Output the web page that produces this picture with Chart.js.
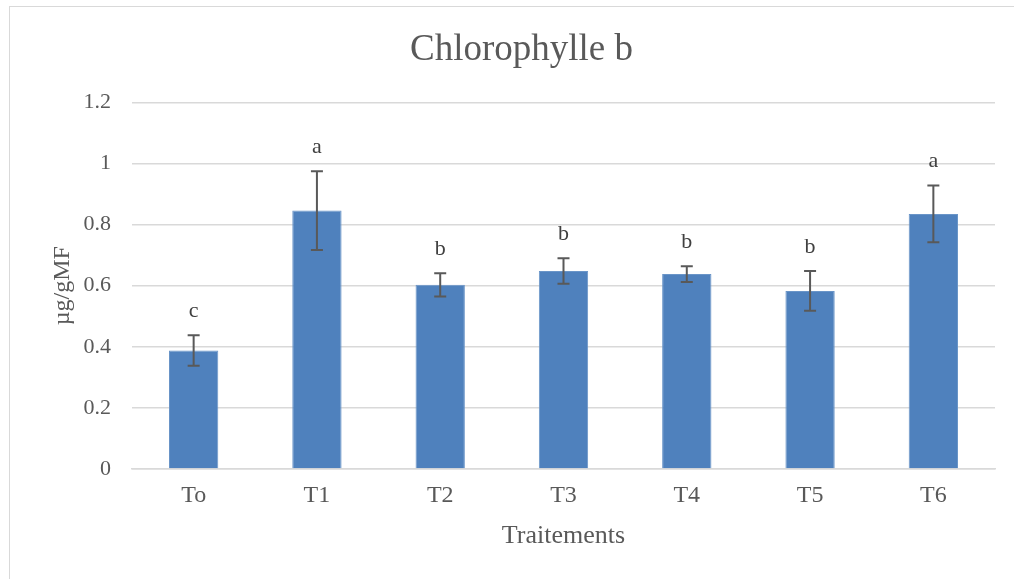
<!DOCTYPE html>
<html>
<head>
<meta charset="utf-8">
<script src="https://cdn.jsdelivr.net/npm/chart.js@4.4.1/dist/chart.umd.min.js"></script>
<style>
html,body{margin:0;padding:0;background:#fff;}
#wrap{position:relative;width:1014px;height:579px;overflow:hidden;}
#frame{position:absolute;left:9px;top:6px;width:1100px;height:700px;border:1.5px solid #d9d9d9;box-sizing:border-box;}
canvas{position:absolute;left:0;top:0;}
</style>
</head>
<body>
<div id="wrap">
<div id="frame"></div>
<canvas id="c" width="1014" height="579"></canvas>
</div>
<script>
const categories = ["To","T1","T2","T3","T4","T5","T6"];
const values = [0.388, 0.846, 0.603, 0.648, 0.638, 0.583, 0.835];
const errors = [0.050, 0.129, 0.038, 0.042, 0.026, 0.065, 0.093];
const letters = ["c","a","b","b","b","b","a"];
const yTicks = [0, 0.2, 0.4, 0.6, 0.8, 1, 1.2];

const textColor = "#595959";
const serif = "'Liberation Serif','Times New Roman',serif";

const errorBarPlugin = {
  id: "errorBars",
  afterDatasetsDraw(chart) {
    const ctx = chart.ctx;
    const meta = chart.getDatasetMeta(0);
    const y = chart.scales.y;
    ctx.save();
    ctx.strokeStyle = "#595959";
    ctx.lineWidth = 2;
    meta.data.forEach((bar, i) => {
      const x = bar.x;
      const top = y.getPixelForValue(values[i] + errors[i]);
      const bot = y.getPixelForValue(values[i] - errors[i]);
      ctx.beginPath();
      ctx.moveTo(x, top); ctx.lineTo(x, bot);
      ctx.moveTo(x - 6, top); ctx.lineTo(x + 6, top);
      ctx.moveTo(x - 6, bot); ctx.lineTo(x + 6, bot);
      ctx.stroke();
      ctx.fillStyle = "#404040";
      ctx.font = "22px " + serif;
      ctx.textAlign = "center";
      ctx.textBaseline = "middle";
      ctx.fillText(letters[i], x, top - 24);
    });
    ctx.restore();
  }
};

new Chart(document.getElementById("c"), {
  type: "bar",
  data: {
    labels: categories,
    datasets: [{
      data: values,
      backgroundColor: "#4f81bd",
      borderColor: "#6a95c8",
      borderWidth: 1,
      barPercentage: 0.4,
      categoryPercentage: 1.0
    }]
  },
  options: {
    responsive: false,
    animation: false,
    devicePixelRatio: 1,
    layout: { padding: { left: 48, right: 19, top: 10, bottom: 27 } },
    plugins: {
      legend: { display: false },
      tooltip: { enabled: false },
      title: {
        display: true,
        text: "Chlorophylle b",
        color: textColor,
        font: { family: serif, size: 37, weight: "normal" },
        padding: { top: 18, bottom: 30 }
      }
    },
    scales: {
      x: {
        afterFit(scale) { scale.height = 83; },
        grid: { display: false, drawTicks: false },
        border: { display: true, color: "#d9d9d9", width: 1.5 },
        ticks: { color: textColor, font: { family: serif, size: 24 }, padding: 12 },
        title: { display: true, text: "Traitements", color: textColor, font: { family: serif, size: 26 }, padding: { top: 7, bottom: 0 } }
      },
      y: {
        min: 0, max: 1.2,
        afterFit(scale) { scale.width = 84; },
        afterBuildTicks(scale) { scale.ticks = yTicks.map(v => ({ value: v })); },
        grid: { color: "#d9d9d9", lineWidth: 1.5, drawTicks: false },
        border: { display: false },
        ticks: { color: textColor, font: { family: serif, size: 22 }, padding: 21,
                 callback: v => String(v) },
        title: { display: true, text: "µg/gMF", color: textColor, font: { family: serif, size: 24 }, padding: { top: 0, bottom: 7 } }
      }
    }
  },
  plugins: [errorBarPlugin]
});
</script>
</body>
</html>
